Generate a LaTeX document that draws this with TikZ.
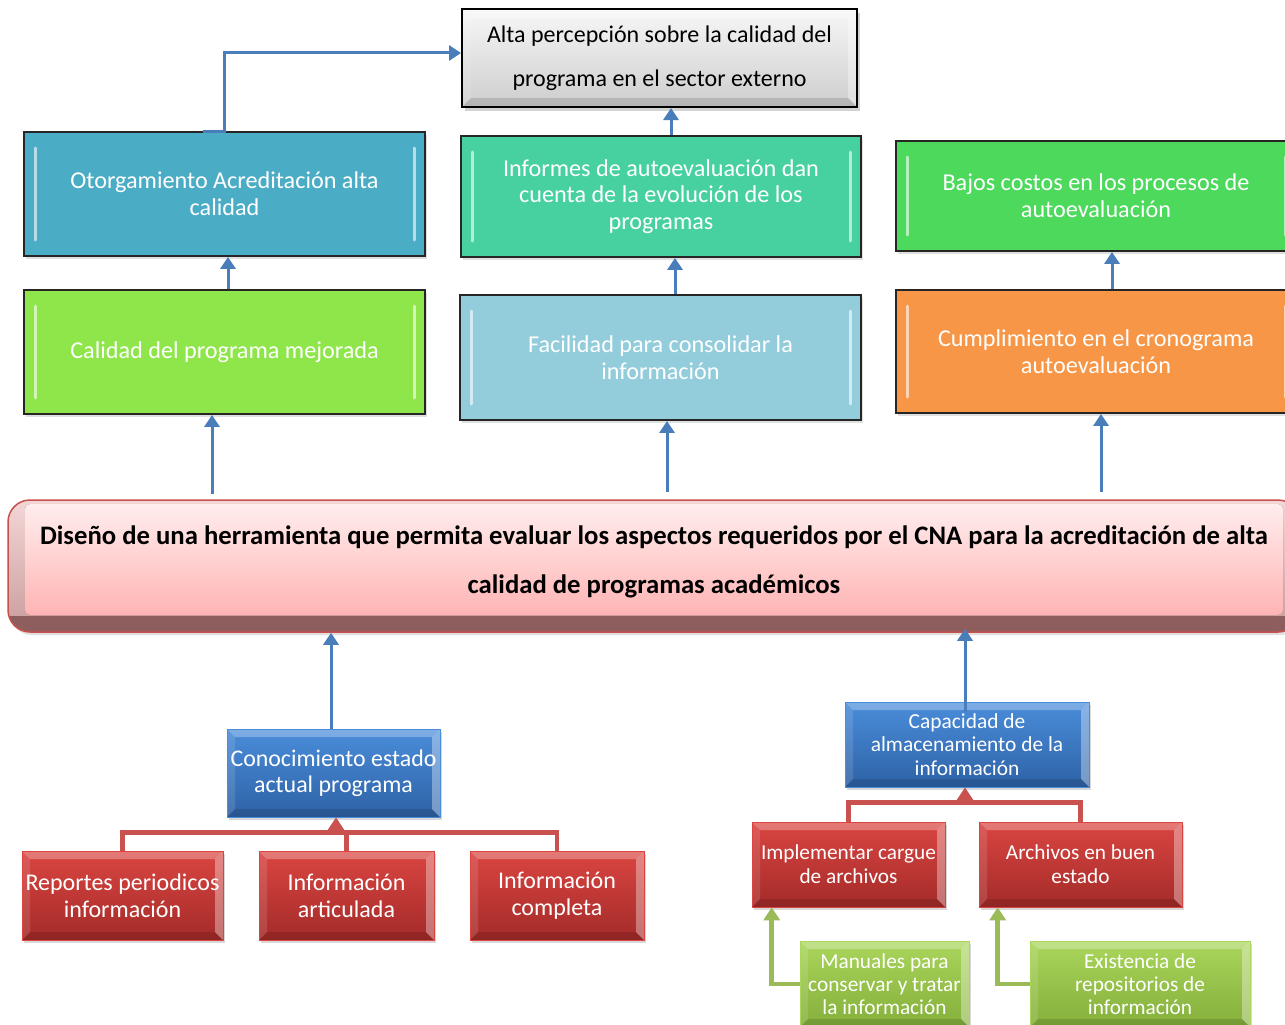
\documentclass[tikz,border=0pt]{standalone}
\usepackage{fontspec}
\setmainfont{Carlito}
\usetikzlibrary{shadows,arrows.meta,calc}

\definecolor{otorgC}{HTML}{4BACC6}
\definecolor{informesC}{HTML}{47D1A1}
\definecolor{bajosC}{HTML}{4CD95C}
\definecolor{calidadC}{HTML}{8FE64B}
\definecolor{facilC}{HTML}{93CDDC}
\definecolor{cumplC}{HTML}{F79646}
\definecolor{grayT}{HTML}{F7F7F7}
\definecolor{grayB}{HTML}{CDCDCD}
\definecolor{blueT}{HTML}{4A8DDA}
\definecolor{blueB}{HTML}{2E62A6}
\definecolor{redT}{HTML}{DA4541}
\definecolor{redB}{HTML}{A42B29}
\definecolor{greenT}{HTML}{AAD65C}
\definecolor{greenB}{HTML}{83AF3B}
\definecolor{arrowB}{HTML}{4A7EBB}
\definecolor{redL}{HTML}{C9524F}
\definecolor{greenL}{HTML}{9BBB59}
\definecolor{mainBorder}{HTML}{C9504D}
\definecolor{mainDark}{HTML}{8E5E5E}
\definecolor{bevT}{HTML}{F4D6D6}
\definecolor{bevB}{HTML}{C99C9C}
\definecolor{faceT}{HTML}{FFEDED}
\definecolor{faceB}{HTML}{FFB4B4}

\newcommand\mybevel[1]{%
  \coordinate (bnw) at (path picture bounding box.north west);
  \coordinate (bne) at (path picture bounding box.north east);
  \coordinate (bsw) at (path picture bounding box.south west);
  \coordinate (bse) at (path picture bounding box.south east);
  \fill[white,opacity=0.28] (bnw) -- (bne) -- ([xshift=-#1pt,yshift=-#1pt]bne) -- ([xshift=#1pt,yshift=-#1pt]bnw) -- cycle;
  \fill[white,opacity=0.12] (bnw) -- ([xshift=#1pt,yshift=-#1pt]bnw) -- ([xshift=#1pt,yshift=#1pt]bsw) -- (bsw) -- cycle;
  \fill[white,opacity=0.35] (bne) -- ([xshift=-#1pt,yshift=-#1pt]bne) -- ([xshift=-#1pt,yshift=#1pt]bse) -- (bse) -- cycle;
  \fill[black,opacity=0.12] (bsw) -- ([xshift=#1pt,yshift=#1pt]bsw) -- ([xshift=-#1pt,yshift=#1pt]bse) -- (bse) -- cycle;
}

\newcommand\myhighlight{%
  \draw[white,opacity=0.6,line width=3pt,line cap=round]
    ([xshift=11pt,yshift=-16pt]path picture bounding box.north west) --
    ([xshift=11pt,yshift=16pt]path picture bounding box.south west);
  \draw[white,opacity=0.6,line width=3pt,line cap=round]
    ([xshift=-11pt,yshift=-16pt]path picture bounding box.north east) --
    ([xshift=-11pt,yshift=16pt]path picture bounding box.south east);
}

\begin{document}
\begin{tikzpicture}[x=1pt,y=-1pt,
  tbox/.style={draw=black!85, line width=1.8pt, fill=#1, text=white, align=center,
    inner sep=0pt, font=\fontsize{24.2}{26.8}\selectfont,
    drop shadow={shadow xshift=2pt,shadow yshift=-3pt,opacity=0.25},
    path picture={\myhighlight}},
  lbox/.style 2 args={top color=#1, bottom color=#2, draw=#1, line width=0.6pt,
    text=white, align=center, inner sep=0pt,
    drop shadow={shadow xshift=2pt,shadow yshift=-3pt,opacity=0.3},
    path picture={\mybevel{8}}},
  barrow/.style={draw=arrowB, line width=3pt, -{Triangle[width=15pt,length=12pt]}},
  rline/.style={draw=redL, line width=4.5pt},
  rarrow/.style={rline, -{Triangle[width=16pt,length=13pt]}},
  garrow/.style={draw=greenL, line width=4.5pt, -{Triangle[width=16pt,length=13pt]}},
]
\useasboundingbox (0,0) rectangle (1285,1025);
\fill[white] (0,0) rectangle (1285,1025);
\clip (0,0) rectangle (1285,1025);

% ---------- top gray box ----------
\node[draw=black, line width=2pt, top color=grayT, bottom color=grayB,
  minimum width=395pt, minimum height=98pt, align=center, inner sep=0pt,
  font=\fontsize{24}{44}\selectfont,
  drop shadow={shadow xshift=3pt,shadow yshift=-4pt,opacity=0.35},
  path picture={\mybevel{9}}] (gray) at (659.5,58)
  {Alta percepción sobre la calidad del\\programa en el sector externo};

% ---------- top row ----------
\node[tbox=otorgC, minimum width=401pt, minimum height=124pt] (otorg) at (224.5,194)
  {Otorgamiento Acreditación alta\\calidad};
\node[tbox=informesC, minimum width=400pt, minimum height=121pt] (informes) at (661,196.5)
  {Informes de autoevaluación dan\\cuenta de la evolución de los\\programas};
\node[tbox=bajosC, minimum width=400pt, minimum height=110pt] (bajos) at (1096,196)
  {Bajos costos en los procesos de\\autoevaluación};

% ---------- second row ----------
\node[tbox=calidadC, minimum width=401pt, minimum height=124pt] (calidad) at (224.5,352)
  {Calidad del programa mejorada};
\node[tbox=facilC, minimum width=401pt, minimum height=125pt] (facil) at (660.5,357.5)
  {Facilidad para consolidar la\\información};
\node[tbox=cumplC, minimum width=400pt, minimum height=123pt] (cumpl) at (1096,351.5)
  {Cumplimiento en el cronograma\\autoevaluación};

% ---------- main box ----------
\node[draw=mainBorder, line width=1.5pt, fill=mainDark, rounded corners=22pt,
  minimum width=1292pt, minimum height=132pt, inner sep=0pt,
  drop shadow={shadow xshift=2pt,shadow yshift=-3pt,opacity=0.25},
  path picture={
    \fill[sharp corners, top color=bevT, bottom color=bevB]
      (path picture bounding box.north west) rectangle ([yshift=17pt]path picture bounding box.south east);
    \fill[rounded corners=5pt, top color=faceT, bottom color=faceB]
      ([xshift=17pt,yshift=-4pt]path picture bounding box.north west) rectangle
      ([xshift=-17pt,yshift=17pt]path picture bounding box.south east);
  }] (mainbox) at (654,566) {};
\node[font=\bfseries\fontsize{26.7}{49}\selectfont, align=center, inner sep=0pt] (maintext) at (654,561.5)
  {Diseño de una herramienta que permita evaluar los aspectos requeridos por el CNA para la acreditación de alta\\calidad de programas académicos};

% ---------- left lower group ----------
\node[lbox={blueT}{blueB}, minimum width=213pt, minimum height=88pt,
  font=\fontsize{23.9}{26}\selectfont] (conoc) at (333.5,773)
  {Conocimiento estado\\actual programa};
\node[lbox={redT}{redB}, minimum width=201pt, minimum height=89pt,
  font=\fontsize{24}{27}\selectfont] (reportes) at (122.5,895.5)
  {Reportes periodicos\\información};
\node[lbox={redT}{redB}, minimum width=175pt, minimum height=89pt,
  font=\fontsize{24}{27}\selectfont] (artic) at (346.5,895.5)
  {Información\\articulada};
\node[lbox={redT}{redB}, minimum width=174pt, minimum height=89pt,
  font=\fontsize{24}{27}\selectfont] (compl) at (557,895.5)
  {Información\\completa};

% ---------- right lower group ----------
\node[lbox={blueT}{blueB}, minimum width=244pt, minimum height=85pt,
  font=\fontsize{21.4}{23.5}\selectfont] (capac) at (967,744.5)
  {Capacidad de\\almacenamiento de la\\información};
\node[lbox={redT}{redB}, minimum width=193pt, minimum height=85pt,
  font=\fontsize{21.3}{24}\selectfont] (implem) at (848.5,864.5)
  {Implementar cargue\\de archivos};
\node[lbox={redT}{redB}, minimum width=203pt, minimum height=85pt,
  font=\fontsize{21.3}{24}\selectfont] (archivos) at (1080.5,864.5)
  {Archivos en buen\\estado};
\node[lbox={greenT}{greenB}, minimum width=169pt, minimum height=86pt,
  font=\fontsize{21.3}{23}\selectfont] (manuales) at (884.5,984)
  {Manuales para\\conservar y tratar\\la información};
\node[lbox={greenT}{greenB}, minimum width=220pt, minimum height=86pt,
  font=\fontsize{21.3}{23}\selectfont] (existencia) at (1140,984)
  {Existencia de\\repositorios de\\información};

% ---------- blue connectors ----------
\coordinate (o1) at ([xshift=-22pt]otorg.north);
\coordinate (g1) at ([yshift=5pt]gray.west);
\draw[barrow] (o1) -- (otorg.north) |- (g1);

\coordinate (a1) at ([xshift=10pt]informes.north);
\draw[barrow] (a1) -- (a1 |- gray.south);

\coordinate (a2) at ([xshift=3.5pt]calidad.north);
\draw[barrow] (a2) -- (a2 |- otorg.south);
\coordinate (a3) at ([xshift=14.5pt]facil.north);
\draw[barrow] (a3) -- (a3 |- informes.south);
\coordinate (a4) at ([xshift=16pt]cumpl.north);
\draw[barrow] (a4) -- (a4 |- bajos.south);

\coordinate (c1) at ([xshift=-12.5pt]calidad.south);
\draw[barrow] ([yshift=5pt]c1 |- mainbox.north) -- (c1);
\coordinate (c2) at ([xshift=6.5pt]facil.south);
\draw[barrow] ([yshift=7pt]c2 |- mainbox.north) -- (c2);
\coordinate (c3) at ([xshift=5pt]cumpl.south);
\draw[barrow] ([yshift=7pt]c3 |- mainbox.north) -- (c3);

\coordinate (d1) at ([xshift=-2.5pt]conoc.north);
\draw[barrow] (d1) -- (d1 |- mainbox.south);
\coordinate (d2) at ([xshift=-2pt,yshift=-10pt]capac.north);
\draw[barrow] (d2) -- ([yshift=4pt]d2 |- mainbox.south);

% ---------- red connectors ----------
\draw[rline, line join=miter] (reportes.north) -- ++(0,-18) -| (compl.north);
\draw[rline] (artic.north) -- ++(0,-18);
\coordinate (r1) at (336,835);
\draw[rarrow] (r1) -- (r1 |- conoc.south);

\draw[rline, line join=miter] (implem.north) -- ++(0,-19) -| (archivos.north);
\coordinate (r2) at (965,805);
\draw[rarrow] (r2) -- (r2 |- capac.south);

% ---------- green connectors ----------
\draw[garrow] (manuales.west) -| ([xshift=20pt]implem.south west);
\draw[garrow] (existencia.west) -| ([xshift=19pt]archivos.south west);
\end{tikzpicture}
\end{document}
